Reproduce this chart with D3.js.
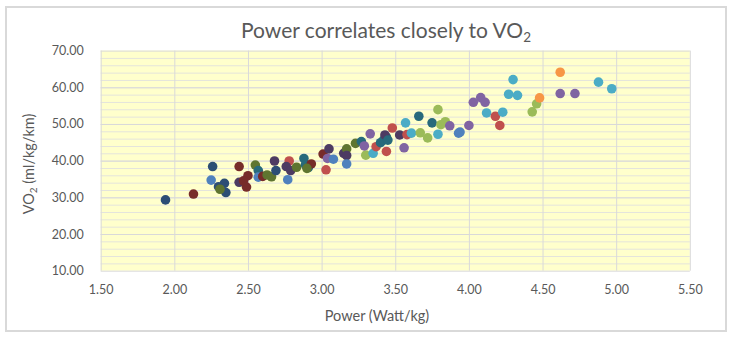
<!DOCTYPE html>
<html>
<head>
<meta charset="utf-8">
<script src="https://cdn.jsdelivr.net/npm/d3@7"></script>
<style>
  body { margin: 0; background: #fff; }
  text { font-family: Lato, "Open Sans", sans-serif; fill: #595959; }
</style>
</head>
<body>
<div id="chart"></div>
<script>
// power (W/kg) and VO2 (ml/kg/km) per run, with each point's colour slot
var power = [1.94, 2.13, 2.26, 2.25, 2.30, 2.34, 2.35, 2.31, 2.44, 2.44,
    2.50, 2.49, 2.47, 2.55, 2.57, 2.57, 2.60, 2.63, 2.66, 2.68,
    2.69, 2.78, 2.77, 2.76, 2.79, 2.83, 2.88, 2.89, 2.91, 2.93,
    3.01, 3.05, 3.04, 3.08, 3.03, 3.15, 3.17, 3.17, 3.17, 3.23,
    3.27, 3.30, 3.29, 3.33, 3.35, 3.37, 3.40, 3.42, 3.44, 3.44,
    3.43, 3.45, 3.48, 3.53, 3.56, 3.57, 3.58, 3.61, 3.66, 3.67,
    3.72, 3.75, 3.79, 3.79, 3.81, 3.84, 3.87, 3.93, 3.94, 4.00,
    4.03, 4.08, 4.11, 4.12, 4.18, 4.21, 4.23, 4.27, 4.30, 4.33,
    4.43, 4.46, 4.48, 4.62, 4.62, 4.72, 4.88, 4.97, 2.90]
var vo2 = [29.3, 30.9, 38.4, 34.7, 32.9, 33.8, 31.3, 32.2, 38.4, 34.1,
    35.9, 32.8, 34.5, 38.8, 37.3, 35.5, 35.7, 36.1, 35.6, 39.9,
    37.3, 39.9, 34.8, 38.4, 37.3, 38.2, 40.6, 38.9, 38.1, 39.1,
    41.8, 43.2, 40.6, 40.4, 37.5, 42.0, 43.2, 41.4, 39.1, 44.7,
    45.2, 41.5, 44.0, 47.3, 42.0, 43.8, 44.9, 45.6, 46.4, 42.5,
    47.0, 45.6, 48.9, 47.0, 43.5, 50.3, 47.1, 47.5, 52.1, 47.6,
    46.2, 50.3, 53.9, 47.2, 49.8, 50.6, 49.5, 47.5, 47.8, 49.6,
    55.9, 57.2, 55.9, 53.0, 52.1, 49.6, 53.2, 58.1, 62.1, 57.8,
    53.3, 55.5, 57.1, 64.1, 58.3, 58.3, 61.4, 59.6, 37.9]
var slot = ["DB", "DR", "DB", "B", "DB", "DB", "DB", "DG", "DR", "DP",
    "DR", "DR", "DR", "DG", "DA", "B", "DR", "DG", "DG", "DP",
    "DB", "R", "B", "DP", "DP", "DG", "DA", "DA", "DA", "DR",
    "DR", "DP", "P", "B", "R", "DP", "DG", "DP", "B", "DG",
    "DA", "G", "P", "P", "A", "R", "DA", "DA", "DA", "R",
    "DP", "DA", "R", "DP", "P", "A", "R", "A", "DA", "G",
    "G", "DA", "G", "A", "G", "G", "P", "B", "B", "P",
    "P", "P", "P", "A", "R", "R", "A", "A", "A", "A",
    "G", "G", "O", "O", "P", "P", "A", "A", "DG"]

var xTicks = [1.5, 2, 2.5, 3, 3.5, 4, 4.5, 5, 5.5]
var yTicks = [10, 20, 30, 40, 50, 60, 70]

var palette = {
    B: "#4f81bd", R: "#c0504d", G: "#9bbb59", P: "#8064a2", A: "#4bacc6", O: "#f79646",
    DB: "#2c4d75", DR: "#772c2a", DG: "#5f7530", DP: "#4d3b62", DA: "#276a7c"
}

var width = 731
var height = 340
var plot = {left: 100.7, right: 689.8, top: 50.6, bottom: 270.7}

var svg = d3.select("#chart").append("svg")
    .attr("width", width)
    .attr("height", height)

// chart frame
svg.append("rect")
    .attr("x", 6).attr("y", 7)
    .attr("width", 720).attr("height", 324)
    .attr("fill", "#fff")
    .attr("stroke", "#d9d9d9")
    .attr("stroke-width", 2)

var x = d3.scaleLinear().domain([1.5, 5.5]).range([plot.left, plot.right])
var y = d3.scaleLinear().domain([10, 70]).range([plot.bottom, plot.top])

svg.append("rect")
    .attr("x", plot.left).attr("y", plot.top)
    .attr("width", plot.right - plot.left)
    .attr("height", plot.bottom - plot.top)
    .attr("fill", "#ffffcc")

// minor horizontal grid every 2 units
svg.append("g")
    .attr("transform", "translate(" + plot.left + ",0)")
    .call(d3.axisLeft(y).tickValues(d3.range(12, 70, 2)).tickSize(-(plot.right - plot.left)).tickFormat(""))
    .call(g => g.select(".domain").remove())
    .call(g => g.selectAll("line").attr("stroke", "#e4e4dc"))

// major grid
svg.append("g")
    .attr("transform", "translate(" + plot.left + ",0)")
    .call(d3.axisLeft(y).tickValues(yTicks).tickSize(-(plot.right - plot.left)).tickFormat(""))
    .call(g => g.select(".domain").remove())
    .call(g => g.selectAll("line").attr("stroke", "#d9d9d9"))

svg.append("g")
    .attr("transform", "translate(0," + plot.bottom + ")")
    .call(d3.axisBottom(x).tickValues(xTicks).tickSize(-(plot.bottom - plot.top)).tickFormat(""))
    .call(g => g.select(".domain").remove())
    .call(g => g.selectAll("line").attr("stroke", "#d9d9d9"))

// tick labels
var fmt = d3.format(".2f")
svg.append("g")
    .attr("transform", "translate(" + (plot.left - 17) + ",0)")
    .call(d3.axisLeft(y).tickValues(yTicks).tickSize(0).tickPadding(0).tickFormat(fmt))
    .call(g => g.select(".domain").remove())
    .call(g => g.selectAll("text").attr("font-size", 12.5).attr("font-family", "Lato").attr("fill", "#595959"))

svg.append("g")
    .attr("transform", "translate(0," + (plot.bottom + 14) + ")")
    .call(d3.axisBottom(x).tickValues(xTicks).tickSize(0).tickPadding(0).tickFormat(fmt))
    .call(g => g.select(".domain").remove())
    .call(g => g.selectAll("text").attr("font-size", 12.5).attr("font-family", "Lato").attr("fill", "#595959"))

// points
var points = power.map((p, i) => ({p: p, v: vo2[i], c: palette[slot[i]]}))
svg.append("g").selectAll("circle")
    .data(points)
    .join("circle")
    .attr("cx", d => x(d.p))
    .attr("cy", d => y(d.v))
    .attr("r", 4.8)
    .attr("fill", d => d.c)

// titles
var title = svg.append("text")
    .attr("x", 386).attr("y", 38)
    .attr("text-anchor", "middle")
    .attr("font-size", 21)
    .text("Power correlates closely to VO")
title.append("tspan").attr("font-size", 13.5).attr("dy", 4).text("2")

svg.append("text")
    .attr("x", 377).attr("y", 321)
    .attr("text-anchor", "middle")
    .attr("font-size", 14.5)
    .text("Power (Watt/kg)")

var ylab = svg.append("text")
    .attr("transform", "translate(34,164) rotate(-90)")
    .attr("text-anchor", "middle")
    .attr("font-size", 14.5)
    .text("VO")
ylab.append("tspan").attr("font-size", 10).attr("dy", 3).text("2")
ylab.append("tspan").attr("dy", -3).text("  (ml/kg/km)")
</script>
</body>
</html>
